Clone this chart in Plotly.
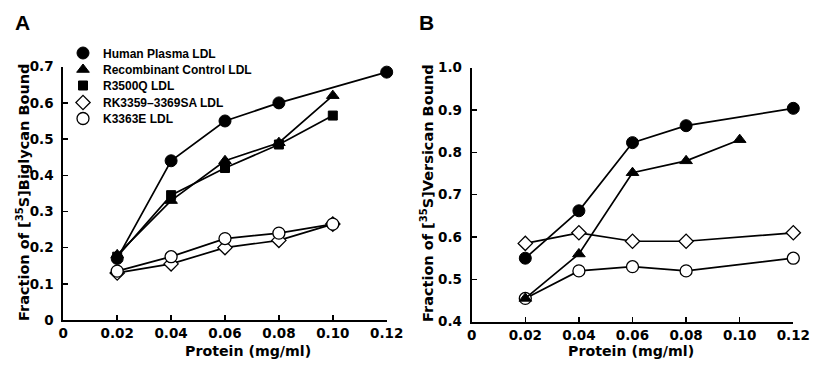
import plotly.graph_objects as go

x_tick_vals = [0, 0.02, 0.04, 0.06, 0.08, 0.10, 0.12]
x_tick_text = ["0", "0.02", "0.04", "0.06", "0.08", "0.10", "0.12"]

# Panel A: [35S]Biglycan bound
a_human_x = [0.02, 0.04, 0.06, 0.08, 0.12]
a_human_y = [0.17, 0.44, 0.55, 0.60, 0.685]
a_recomb_x = [0.02, 0.04, 0.06, 0.08, 0.10]
a_recomb_y = [0.18, 0.33, 0.44, 0.49, 0.62]
a_r3500q_x = [0.02, 0.04, 0.06, 0.08, 0.10]
a_r3500q_y = [0.175, 0.345, 0.42, 0.485, 0.565]
a_rk_x = [0.02, 0.04, 0.06, 0.08, 0.10]
a_rk_y = [0.13, 0.155, 0.20, 0.22, 0.265]
a_k_x = [0.02, 0.04, 0.06, 0.08, 0.10]
a_k_y = [0.135, 0.175, 0.225, 0.24, 0.265]

# Panel B: [35S]Versican bound
b_human_x = [0.02, 0.04, 0.06, 0.08, 0.12]
b_human_y = [0.55, 0.662, 0.823, 0.863, 0.904]
b_recomb_x = [0.02, 0.04, 0.06, 0.08, 0.10]
b_recomb_y = [0.455, 0.56, 0.752, 0.78, 0.83]
b_rk_x = [0.02, 0.04, 0.06, 0.08, 0.12]
b_rk_y = [0.585, 0.61, 0.59, 0.59, 0.61]
b_k_x = [0.02, 0.04, 0.06, 0.08, 0.12]
b_k_y = [0.455, 0.52, 0.53, 0.52, 0.55]

a_y_ticks = [0, 0.1, 0.2, 0.3, 0.4, 0.5, 0.6, 0.7]
a_y_text = ["0", "0.1", "0.2", "0.3", "0.4", "0.5", "0.6", "0.7"]
b_y_ticks = [0.4, 0.5, 0.6, 0.7, 0.8, 0.9, 1.0]
b_y_text = ["0.4", "0.5", "0.6", "0.7", "0.8", "0.9", "1.0"]

names = ["Human Plasma LDL", "Recombinant Control LDL", "R3500Q LDL",
         "RK3359\u20133369SA LDL", "K3363E LDL"]
keys = ["human", "recomb", "r3500q", "rk", "k"]

x_title = "Protein (mg/ml)"
a_y_title = "Fraction of [<sup>35</sup>S]Biglycan Bound"
b_y_title = "Fraction of [<sup>35</sup>S]Versican Bound"

FONT = "DejaVu Sans"
LFONT = "Liberation Sans"
LINE = dict(color="black", width=1.7)

def filled(sym, size):
    return dict(symbol=sym, size=size, color="black", line=dict(color="black", width=1))

def hollow(sym, size):
    return dict(symbol=sym, size=size, color="white", line=dict(color="black", width=1.3))

styles = {
    "human": filled("circle", 12),
    "recomb": filled("triangle-up", 11),
    "r3500q": filled("square", 9),
    "rk": hollow("diamond", 11),
    "k": hollow("circle", 12),
}

fig = go.Figure()

panel_a = [
    ("rk", a_rk_x, a_rk_y),
    ("k", a_k_x, a_k_y),
    ("r3500q", a_r3500q_x, a_r3500q_y),
    ("recomb", a_recomb_x, a_recomb_y),
    ("human", a_human_x, a_human_y),
]
for key, xs, ys in panel_a:
    fig.add_trace(go.Scatter(
        x=xs, y=ys, mode="lines+markers", line=LINE, marker=styles[key],
        xaxis="x", yaxis="y", cliponaxis=False, showlegend=False,
        name=names[keys.index(key)]))

panel_b = [
    ("rk", b_rk_x, b_rk_y),
    ("k", b_k_x, b_k_y),
    ("recomb", b_recomb_x, b_recomb_y),
    ("human", b_human_x, b_human_y),
]
for key, xs, ys in panel_b:
    fig.add_trace(go.Scatter(
        x=xs, y=ys, mode="lines+markers", line=LINE, marker=styles[key],
        xaxis="x2", yaxis="y2", cliponaxis=False, showlegend=False,
        name=names[keys.index(key)]))

# legend entries (marker only), one legend per entry for tight spacing
legend_ids = ["legend", "legend2", "legend3", "legend4", "legend5"]
for i, key in enumerate(keys):
    fig.add_trace(go.Scatter(
        x=[None], y=[None], mode="markers", marker=styles[key], name=names[i],
        xaxis="x", yaxis="y", showlegend=True, legend=legend_ids[i]))

W, H = 820, 365
def xd(a, b):
    return [a / W, b / W]
def yd(top, bottom):
    return [(H - bottom) / H, (H - top) / H]
def px(x):
    return x / W
def py(y):
    return 1 - y / H

tickfont = dict(family=FONT, size=13.5, color="black", weight="bold")
titlefont = dict(family=FONT, size=14.2, color="black", weight="bold")
ytitlefont = dict(family=FONT, size=14.5, color="black", weight="bold")

axis_common = dict(showline=True, linecolor="black", linewidth=2, ticks="inside",
                   ticklen=5, tickwidth=1.5, tickcolor="black", showgrid=False,
                   zeroline=False, tickfont=tickfont, automargin=False)

common_x = dict(range=[0, 0.12], tickvals=x_tick_vals, ticktext=x_tick_text,
                ticklabelstandoff=0, **axis_common)

legend_centers = [53, 69.5, 85.5, 102.5, 118.5]
legend_layout = {}
for lid, yc in zip(legend_ids, legend_centers):
    legend_layout[lid] = dict(
        x=px(75), y=py(yc), xanchor="left", yanchor="middle",
        bgcolor="rgba(0,0,0,0)", borderwidth=0,
        font=dict(family=LFONT, size=12, color="black", weight="bold"),
        itemwidth=30, indentation=-12)

def ann(text, x, y, font, angle=0, xanchor="center", yanchor="middle"):
    return dict(text=text, x=px(x), y=py(y), xref="paper", yref="paper",
                xanchor=xanchor, yanchor=yanchor, showarrow=False,
                textangle=angle, font=font)

fig.update_layout(
    width=W, height=H, margin=dict(l=0, r=0, t=0, b=0, autoexpand=False),
    plot_bgcolor="white", paper_bgcolor="white",
    font=dict(family=FONT, color="black"),
    xaxis=dict(domain=xd(63.3, 386.7), anchor="y", **common_x),
    yaxis=dict(domain=yd(66.7, 320), anchor="x", range=[0, 0.7],
               tickvals=a_y_ticks, ticktext=a_y_text, ticklabelstandoff=5,
               **axis_common),
    xaxis2=dict(domain=xd(471.7, 793.3), anchor="y2", **common_x),
    yaxis2=dict(domain=yd(67.7, 321.7), anchor="x2", range=[0.4, 1.0],
                tickvals=b_y_ticks, ticktext=b_y_text, ticklabelstandoff=5,
                **axis_common),
    annotations=[
        ann("<b>A</b>", 22.5, 22.5, dict(family=LFONT, size=21, color="black")),
        ann("<b>B</b>", 426.5, 22.5, dict(family=LFONT, size=21, color="black")),
        ann(x_title, 247.5, 350.5, titlefont),
        ann(x_title, 631, 350.5, titlefont),
        ann(a_y_title, 23, 193, ytitlefont, angle=-90),
        ann(b_y_title, 427, 193, ytitlefont, angle=-90),
    ],
    **legend_layout,
)

fig.write_html("out.html", config={"displayModeBar": False, "staticPlot": True},
               post_script="document.body.style.margin='0px';document.body.style.overflow='hidden';")
